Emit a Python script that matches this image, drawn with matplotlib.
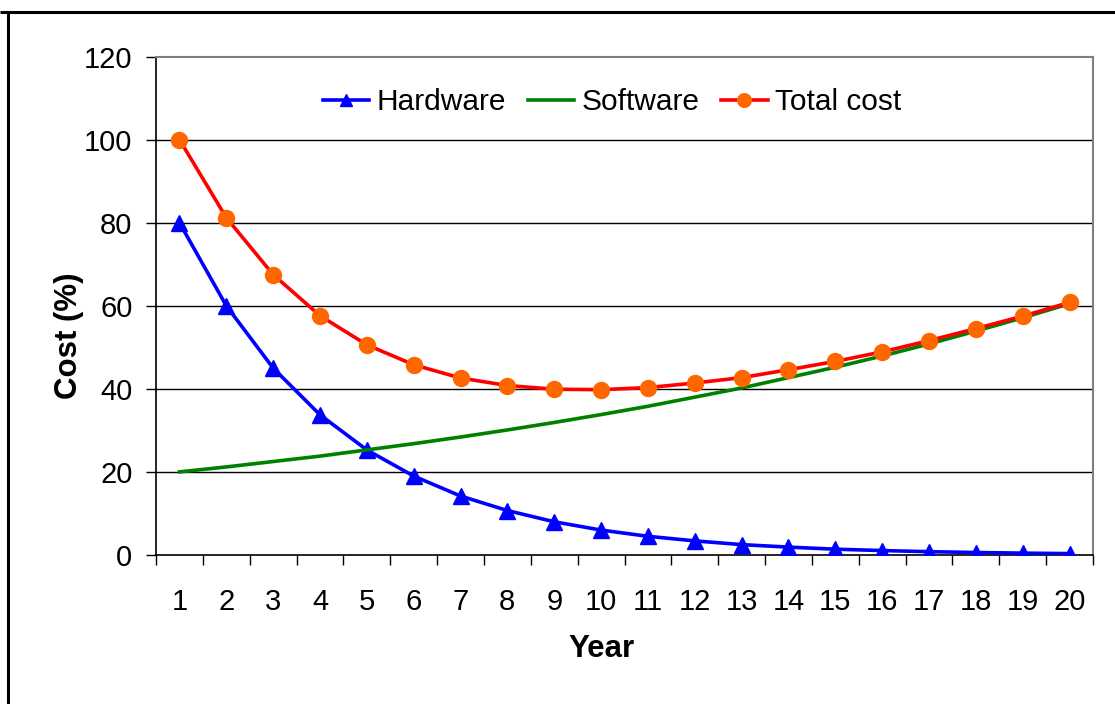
"""
Hardware vs software cost over a 20 year lifetime
"""

import numpy as np
import matplotlib
matplotlib.use('Agg')
import matplotlib.pyplot as plt
from matplotlib.lines import Line2D

plt.rcParams['font.family'] = ['Liberation Sans', 'DejaVu Sans']

years = list(range(1, 21))
hardware = [80.0, 60.0, 45.0, 33.75, 25.3, 19.0, 14.2, 10.7, 8.0, 6.0,
            4.5, 3.4, 2.5, 1.9, 1.4, 1.07, 0.8, 0.6, 0.45, 0.34]
software = [20.0, 21.2, 22.5, 23.8, 25.3, 26.8, 28.4, 30.1, 31.9, 33.8,
            35.8, 38.0, 40.2, 42.7, 45.2, 47.9, 50.8, 53.9, 57.1, 60.5]
total = [100.0, 81.2, 67.5, 57.6, 50.6, 45.8, 42.6, 40.8, 39.9, 39.8,
         40.3, 41.4, 42.7, 44.6, 46.6, 48.9, 51.6, 54.5, 57.5, 60.8]
y_ticks = [0, 20, 40, 60, 80, 100, 120]

fig = plt.figure(figsize=(11.15, 7.04), dpi=100)
ax = fig.add_axes([156 / 1115, 1 - 555 / 704, 937 / 1115, 498.5 / 704])

ax.plot(years, hardware, color='#0000FF', lw=2.6, marker='^', ms=11,
        mfc='#0000FF', mec='#0000FF', label='Hardware', zorder=3)
ax.plot(years, software, color='#008000', lw=2.6, label='Software', zorder=3)
ax.plot(years, total, color='#FF0000', lw=2.6, marker='o', ms=11.5,
        mfc='#FF6600', mec='#FF6600', label='Total cost', zorder=4)

ax.set_xlim(0.5, 20.5)
ax.set_ylim(0, 120)
ax.set_yticks(y_ticks)
ax.set_xticks(years)
ax.set_xticks(np.arange(0.5, 21, 1.0), minor=True)
ax.tick_params(axis='x', which='major', length=0, pad=24, labelsize=21)
ax.tick_params(axis='x', which='minor', length=7, width=1, direction='out')
ax.tick_params(axis='y', length=7, width=1, direction='out', pad=10, labelsize=21)

for v in y_ticks[1:-1]:
    ax.axhline(v, color='black', lw=1, zorder=1)

for side in ['top', 'right']:
    ax.spines[side].set_color('#808080')
    ax.spines[side].set_linewidth(1.5)
for side in ['left', 'bottom']:
    ax.spines[side].set_color('black')
    ax.spines[side].set_linewidth(1.2)

ax.set_xlabel('Year', fontsize=22.5, fontweight='bold', va='baseline')
ax.set_ylabel('Cost (%)', fontsize=22.5, fontweight='bold', va='baseline')
ax.xaxis.set_label_coords(0.475, -0.2046)
ax.yaxis.set_label_coords(-0.0846, 0.439)

ax.legend(loc='upper center', bbox_to_anchor=(0.4866, 0.99), ncol=3, frameon=False,
          fontsize=21.5, handlelength=1.55, handletextpad=0.25, columnspacing=0.73,
          markerscale=0.85)

# outer chart frame
fig.add_artist(Line2D([0, 1], [1 - 12 / 704] * 2, transform=fig.transFigure,
                      color='black', lw=2.2, solid_capstyle='butt'))
fig.add_artist(Line2D([8 / 1115] * 2, [0, 1 - 12 / 704], transform=fig.transFigure,
                      color='black', lw=2.2, solid_capstyle='butt'))

plt.savefig('out.png', dpi=100)
